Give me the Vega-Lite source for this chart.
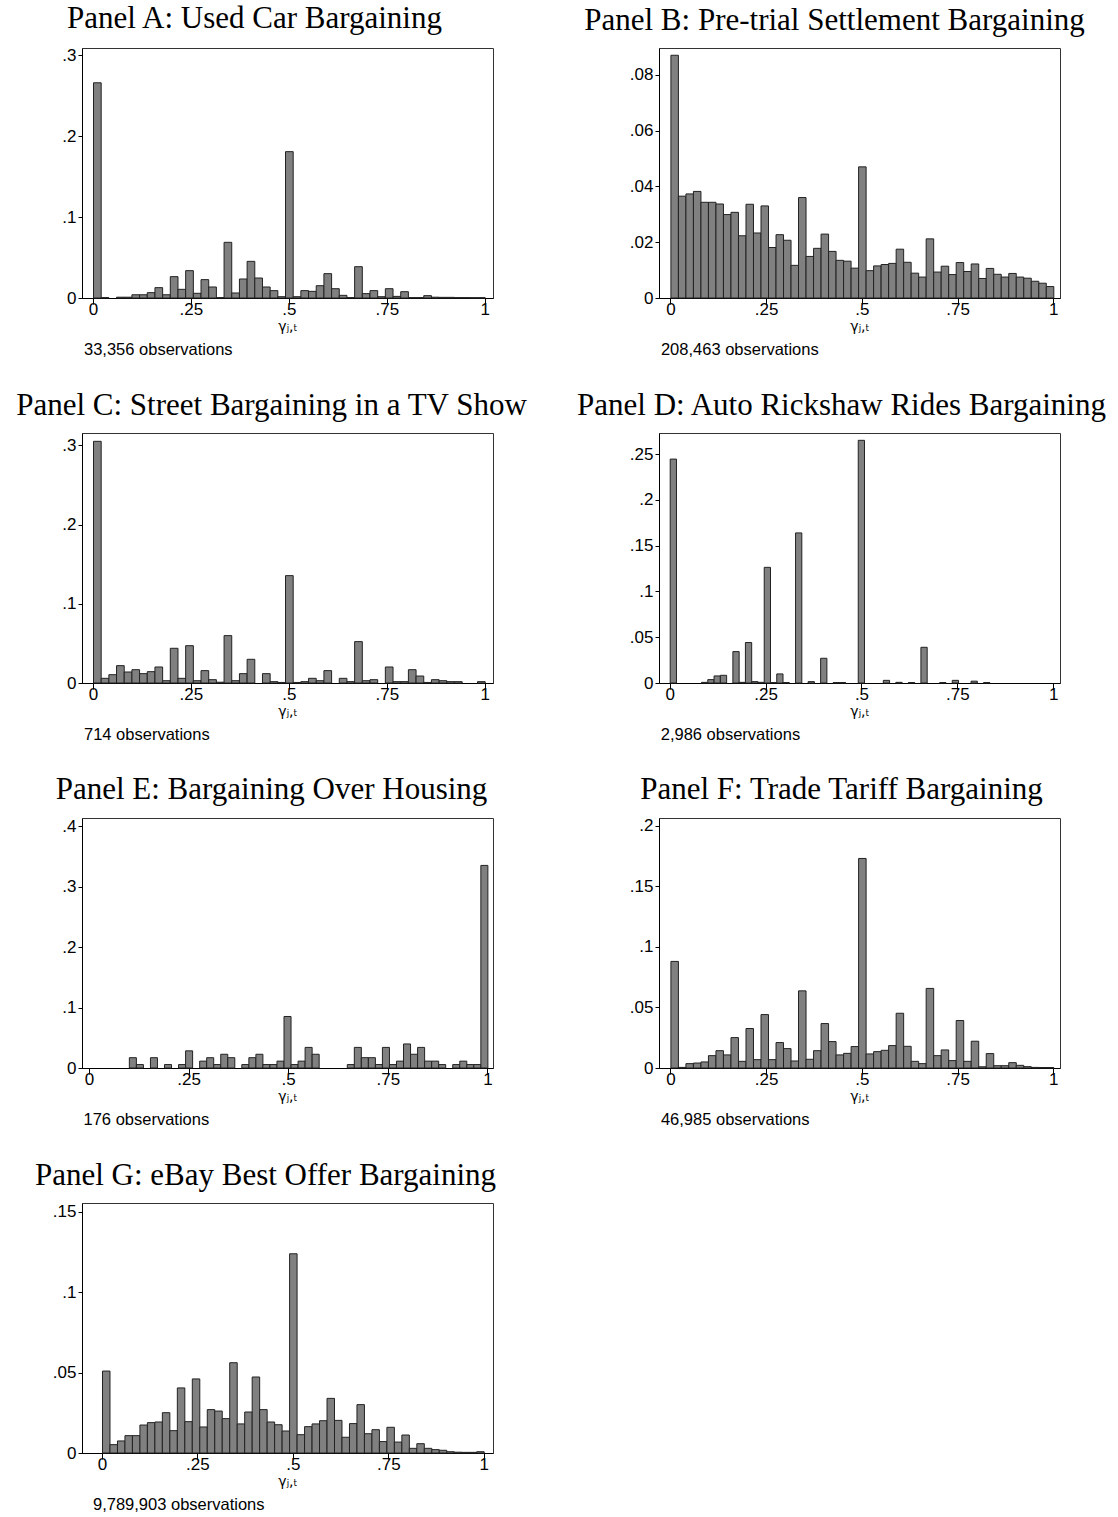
{
 "$schema": "https://vega.github.io/schema/vega-lite/v6.json",
 "background": "white",
 "padding": {"left": 15, "top": 2, "right": 10, "bottom": 6},
 "config": {
  "view": {"stroke": "#333333", "strokeWidth": 1},
  "title": {"font": "Liberation Serif", "fontSize": 31, "fontWeight": "normal", "color": "black", "anchor": "middle", "frame": "group", "baseline": "alphabetic", "offset": 11},
  "axis": {"grid": false, "domainColor": "black", "tickColor": "black", "labelColor": "black", "labelFont": "Liberation Sans", "labelFontSize": 17, "titleFont": "DejaVu Sans", "titleFontSize": 14, "titleFontWeight": "normal", "titleColor": "black"},
  "axisX": {"tickSize": 6, "labelPadding": -3, "titlePadding": 2, "labelFlush": false},
  "axisY": {"tickSize": 4, "labelPadding": 2}
 },
 "datasets": {
  "notes": [
   {"p": "A", "n": "33,356 observations"},
   {"p": "B", "n": "208,463 observations"},
   {"p": "C", "n": "714 observations"},
   {"p": "D", "n": "2,986 observations"},
   {"p": "E", "n": "176 observations"},
   {"p": "F", "n": "46,985 observations"},
   {"p": "G", "n": "9,789,903 observations"}
  ],
  "bins": [
   {"p":"A","lo":0,"v":0.266},{"p":"A","lo":0.01961,"v":0.0005},{"p":"A","lo":0.05882,"v":0.001},{"p":"A","lo":0.07843,"v":0.001},{"p":"A","lo":0.09804,"v":0.004},{"p":"A","lo":0.11765,"v":0.004},{"p":"A","lo":0.13725,"v":0.0066},{"p":"A","lo":0.15686,"v":0.0128},{"p":"A","lo":0.17647,"v":0.004},{"p":"A","lo":0.19608,"v":0.0264},{"p":"A","lo":0.21569,"v":0.0107},{"p":"A","lo":0.23529,"v":0.0338},{"p":"A","lo":0.2549,"v":0.0058},{"p":"A","lo":0.27451,"v":0.0227},{"p":"A","lo":0.29412,"v":0.0136},{"p":"A","lo":0.31373,"v":0.0005},{"p":"A","lo":0.33333,"v":0.0688},{"p":"A","lo":0.35294,"v":0.0062},{"p":"A","lo":0.37255,"v":0.0235},{"p":"A","lo":0.39216,"v":0.0453},{"p":"A","lo":0.41176,"v":0.0247},{"p":"A","lo":0.43137,"v":0.0136},{"p":"A","lo":0.45098,"v":0.0091},{"p":"A","lo":0.47059,"v":0.0016},{"p":"A","lo":0.4902,"v":0.1809},{"p":"A","lo":0.5098,"v":0.0016},{"p":"A","lo":0.52941,"v":0.0091},{"p":"A","lo":0.54902,"v":0.0082},{"p":"A","lo":0.56863,"v":0.0152},{"p":"A","lo":0.58824,"v":0.0301},{"p":"A","lo":0.60784,"v":0.0115},{"p":"A","lo":0.62745,"v":0.0033},{"p":"A","lo":0.64706,"v":0.0005},{"p":"A","lo":0.66667,"v":0.0387},{"p":"A","lo":0.68627,"v":0.0054},{"p":"A","lo":0.70588,"v":0.0091},{"p":"A","lo":0.72549,"v":0.0016},{"p":"A","lo":0.7451,"v":0.0115},{"p":"A","lo":0.76471,"v":0.002},{"p":"A","lo":0.78431,"v":0.0078},{"p":"A","lo":0.80392,"v":0.0005},{"p":"A","lo":0.82353,"v":0.0005},{"p":"A","lo":0.84314,"v":0.0029},{"p":"A","lo":0.86275,"v":0.001},{"p":"A","lo":0.88235,"v":0.0008},{"p":"A","lo":0.90196,"v":0.0008},{"p":"A","lo":0.92157,"v":0.0005},{"p":"A","lo":0.94118,"v":0.0005},{"p":"A","lo":0.96078,"v":0.0004},{"p":"A","lo":0.98039,"v":0.0004},
   {"p":"B","lo":0,"v":0.087},{"p":"B","lo":0.01961,"v":0.0365},{"p":"B","lo":0.03922,"v":0.0373},{"p":"B","lo":0.05882,"v":0.0382},{"p":"B","lo":0.07843,"v":0.0343},{"p":"B","lo":0.09804,"v":0.0343},{"p":"B","lo":0.11765,"v":0.0337},{"p":"B","lo":0.13725,"v":0.0299},{"p":"B","lo":0.15686,"v":0.0307},{"p":"B","lo":0.17647,"v":0.0223},{"p":"B","lo":0.19608,"v":0.0336},{"p":"B","lo":0.21569,"v":0.0233},{"p":"B","lo":0.23529,"v":0.033},{"p":"B","lo":0.2549,"v":0.0181},{"p":"B","lo":0.27451,"v":0.0227},{"p":"B","lo":0.29412,"v":0.0207},{"p":"B","lo":0.31373,"v":0.0117},{"p":"B","lo":0.33333,"v":0.036},{"p":"B","lo":0.35294,"v":0.0149},{"p":"B","lo":0.37255,"v":0.0178},{"p":"B","lo":0.39216,"v":0.0229},{"p":"B","lo":0.41176,"v":0.0167},{"p":"B","lo":0.43137,"v":0.0135},{"p":"B","lo":0.45098,"v":0.0132},{"p":"B","lo":0.47059,"v":0.0107},{"p":"B","lo":0.4902,"v":0.047},{"p":"B","lo":0.5098,"v":0.0098},{"p":"B","lo":0.52941,"v":0.0115},{"p":"B","lo":0.54902,"v":0.012},{"p":"B","lo":0.56863,"v":0.0124},{"p":"B","lo":0.58824,"v":0.0175},{"p":"B","lo":0.60784,"v":0.0128},{"p":"B","lo":0.62745,"v":0.0089},{"p":"B","lo":0.64706,"v":0.0075},{"p":"B","lo":0.66667,"v":0.0212},{"p":"B","lo":0.68627,"v":0.0093},{"p":"B","lo":0.70588,"v":0.0114},{"p":"B","lo":0.72549,"v":0.0084},{"p":"B","lo":0.7451,"v":0.0127},{"p":"B","lo":0.76471,"v":0.0095},{"p":"B","lo":0.78431,"v":0.0122},{"p":"B","lo":0.80392,"v":0.007},{"p":"B","lo":0.82353,"v":0.0106},{"p":"B","lo":0.84314,"v":0.0085},{"p":"B","lo":0.86275,"v":0.0075},{"p":"B","lo":0.88235,"v":0.0088},{"p":"B","lo":0.90196,"v":0.0075},{"p":"B","lo":0.92157,"v":0.0071},{"p":"B","lo":0.94118,"v":0.006},{"p":"B","lo":0.96078,"v":0.0053},{"p":"B","lo":0.98039,"v":0.0041},
   {"p":"C","lo":0,"v":0.305},{"p":"C","lo":0.01961,"v":0.0059},{"p":"C","lo":0.03922,"v":0.0105},{"p":"C","lo":0.05882,"v":0.0219},{"p":"C","lo":0.07843,"v":0.0139},{"p":"C","lo":0.09804,"v":0.0168},{"p":"C","lo":0.11765,"v":0.0118},{"p":"C","lo":0.13725,"v":0.0143},{"p":"C","lo":0.15686,"v":0.0202},{"p":"C","lo":0.17647,"v":0.0029},{"p":"C","lo":0.19608,"v":0.0438},{"p":"C","lo":0.21569,"v":0.0059},{"p":"C","lo":0.23529,"v":0.0471},{"p":"C","lo":0.2549,"v":0.0029},{"p":"C","lo":0.27451,"v":0.0156},{"p":"C","lo":0.29412,"v":0.0042},{"p":"C","lo":0.31373,"v":0.001},{"p":"C","lo":0.33333,"v":0.0598},{"p":"C","lo":0.35294,"v":0.0029},{"p":"C","lo":0.37255,"v":0.0118},{"p":"C","lo":0.39216,"v":0.0299},{"p":"C","lo":0.43137,"v":0.0118},{"p":"C","lo":0.45098,"v":0.0017},{"p":"C","lo":0.47059,"v":0.0007},{"p":"C","lo":0.4902,"v":0.1355},{"p":"C","lo":0.5098,"v":0.0007},{"p":"C","lo":0.52941,"v":0.0017},{"p":"C","lo":0.54902,"v":0.0059},{"p":"C","lo":0.56863,"v":0.0029},{"p":"C","lo":0.58824,"v":0.0156},{"p":"C","lo":0.62745,"v":0.0059},{"p":"C","lo":0.64706,"v":0.0017},{"p":"C","lo":0.66667,"v":0.0522},{"p":"C","lo":0.68627,"v":0.0029},{"p":"C","lo":0.70588,"v":0.0042},{"p":"C","lo":0.7451,"v":0.0202},{"p":"C","lo":0.76471,"v":0.0017},{"p":"C","lo":0.78431,"v":0.0017},{"p":"C","lo":0.80392,"v":0.0168},{"p":"C","lo":0.82353,"v":0.0088},{"p":"C","lo":0.84314,"v":0.0007},{"p":"C","lo":0.86275,"v":0.0042},{"p":"C","lo":0.88235,"v":0.0029},{"p":"C","lo":0.90196,"v":0.0017},{"p":"C","lo":0.92157,"v":0.0017},{"p":"C","lo":0.98039,"v":0.0017},
   {"p":"D","lo":0,"v":0.2445},{"p":"D","lo":0.0817,"v":0.0007},{"p":"D","lo":0.09804,"v":0.0037},{"p":"D","lo":0.11438,"v":0.0077},{"p":"D","lo":0.13072,"v":0.0084},{"p":"D","lo":0.1634,"v":0.0343},{"p":"D","lo":0.17974,"v":0.0007},{"p":"D","lo":0.19608,"v":0.0442},{"p":"D","lo":0.21242,"v":0.0015},{"p":"D","lo":0.22876,"v":0.0007},{"p":"D","lo":0.2451,"v":0.1263},{"p":"D","lo":0.26144,"v":0.0005},{"p":"D","lo":0.27778,"v":0.0099},{"p":"D","lo":0.29412,"v":0.0005},{"p":"D","lo":0.3268,"v":0.1639},{"p":"D","lo":0.35948,"v":0.0015},{"p":"D","lo":0.39216,"v":0.027},{"p":"D","lo":0.42484,"v":0.0005},{"p":"D","lo":0.44118,"v":0.0005},{"p":"D","lo":0.4902,"v":0.265},{"p":"D","lo":0.55556,"v":0.0029},{"p":"D","lo":0.58824,"v":0.0007},{"p":"D","lo":0.62092,"v":0.0005},{"p":"D","lo":0.6536,"v":0.039},{"p":"D","lo":0.70262,"v":0.0005},{"p":"D","lo":0.7353,"v":0.0029},{"p":"D","lo":0.78432,"v":0.002},{"p":"D","lo":0.817,"v":0.0005},
   {"p":"E","lo":0.1,"v":0.01705},{"p":"E","lo":0.11765,"v":0.00568},{"p":"E","lo":0.15294,"v":0.01705},{"p":"E","lo":0.18824,"v":0.00568},{"p":"E","lo":0.22353,"v":0.00568},{"p":"E","lo":0.24118,"v":0.02841},{"p":"E","lo":0.27647,"v":0.01136},{"p":"E","lo":0.29412,"v":0.01705},{"p":"E","lo":0.31176,"v":0.00568},{"p":"E","lo":0.32941,"v":0.02273},{"p":"E","lo":0.34706,"v":0.01705},{"p":"E","lo":0.38235,"v":0.00568},{"p":"E","lo":0.4,"v":0.01705},{"p":"E","lo":0.41765,"v":0.02273},{"p":"E","lo":0.43529,"v":0.00568},{"p":"E","lo":0.45294,"v":0.00568},{"p":"E","lo":0.47059,"v":0.01136},{"p":"E","lo":0.48824,"v":0.08523},{"p":"E","lo":0.50588,"v":0.00568},{"p":"E","lo":0.52353,"v":0.01136},{"p":"E","lo":0.54118,"v":0.03409},{"p":"E","lo":0.55882,"v":0.02273},{"p":"E","lo":0.64706,"v":0.00568},{"p":"E","lo":0.66471,"v":0.03409},{"p":"E","lo":0.68235,"v":0.01705},{"p":"E","lo":0.7,"v":0.01705},{"p":"E","lo":0.71765,"v":0.00568},{"p":"E","lo":0.73529,"v":0.03409},{"p":"E","lo":0.75294,"v":0.00568},{"p":"E","lo":0.77059,"v":0.01136},{"p":"E","lo":0.78824,"v":0.03977},{"p":"E","lo":0.80588,"v":0.02273},{"p":"E","lo":0.82353,"v":0.03409},{"p":"E","lo":0.84118,"v":0.01136},{"p":"E","lo":0.85882,"v":0.01136},{"p":"E","lo":0.87647,"v":0.00568},{"p":"E","lo":0.91176,"v":0.00568},{"p":"E","lo":0.92941,"v":0.01136},{"p":"E","lo":0.94706,"v":0.00568},{"p":"E","lo":0.96471,"v":0.00568},{"p":"E","lo":0.98235,"v":0.33523},
   {"p":"F","lo":0,"v":0.088},{"p":"F","lo":0.01961,"v":0.0005},{"p":"F","lo":0.03922,"v":0.0036},{"p":"F","lo":0.05882,"v":0.0041},{"p":"F","lo":0.07843,"v":0.005},{"p":"F","lo":0.09804,"v":0.0102},{"p":"F","lo":0.11765,"v":0.0143},{"p":"F","lo":0.13725,"v":0.0108},{"p":"F","lo":0.15686,"v":0.0251},{"p":"F","lo":0.17647,"v":0.0055},{"p":"F","lo":0.19608,"v":0.0326},{"p":"F","lo":0.21569,"v":0.0069},{"p":"F","lo":0.23529,"v":0.0441},{"p":"F","lo":0.2549,"v":0.0069},{"p":"F","lo":0.27451,"v":0.021},{"p":"F","lo":0.29412,"v":0.016},{"p":"F","lo":0.31373,"v":0.0058},{"p":"F","lo":0.33333,"v":0.0637},{"p":"F","lo":0.35294,"v":0.0072},{"p":"F","lo":0.37255,"v":0.0143},{"p":"F","lo":0.39216,"v":0.0367},{"p":"F","lo":0.41176,"v":0.0218},{"p":"F","lo":0.43137,"v":0.0108},{"p":"F","lo":0.45098,"v":0.0121},{"p":"F","lo":0.47059,"v":0.0177},{"p":"F","lo":0.4902,"v":0.173},{"p":"F","lo":0.5098,"v":0.0116},{"p":"F","lo":0.52941,"v":0.0135},{"p":"F","lo":0.54902,"v":0.0146},{"p":"F","lo":0.56863,"v":0.0185},{"p":"F","lo":0.58824,"v":0.0452},{"p":"F","lo":0.60784,"v":0.0179},{"p":"F","lo":0.62745,"v":0.0055},{"p":"F","lo":0.64706,"v":0.0036},{"p":"F","lo":0.66667,"v":0.0657},{"p":"F","lo":0.68627,"v":0.0102},{"p":"F","lo":0.70588,"v":0.0149},{"p":"F","lo":0.72549,"v":0.0061},{"p":"F","lo":0.7451,"v":0.0392},{"p":"F","lo":0.76471,"v":0.0055},{"p":"F","lo":0.78431,"v":0.0221},{"p":"F","lo":0.80392,"v":0.001},{"p":"F","lo":0.82353,"v":0.0119},{"p":"F","lo":0.84314,"v":0.0019},{"p":"F","lo":0.86275,"v":0.0019},{"p":"F","lo":0.88235,"v":0.0044},{"p":"F","lo":0.90196,"v":0.0022},{"p":"F","lo":0.92157,"v":0.0011},{"p":"F","lo":0.94118,"v":0.0005},{"p":"F","lo":0.96078,"v":0.0004},{"p":"F","lo":0.98039,"v":0.0004},
   {"p":"G","lo":0,"v":0.051},{"p":"G","lo":0.01961,"v":0.0052},{"p":"G","lo":0.03922,"v":0.0075},{"p":"G","lo":0.05882,"v":0.0108},{"p":"G","lo":0.07843,"v":0.0108},{"p":"G","lo":0.09804,"v":0.0174},{"p":"G","lo":0.11765,"v":0.0189},{"p":"G","lo":0.13725,"v":0.0193},{"p":"G","lo":0.15686,"v":0.0251},{"p":"G","lo":0.17647,"v":0.0139},{"p":"G","lo":0.19608,"v":0.0405},{"p":"G","lo":0.21569,"v":0.0195},{"p":"G","lo":0.23529,"v":0.0461},{"p":"G","lo":0.2549,"v":0.0162},{"p":"G","lo":0.27451,"v":0.027},{"p":"G","lo":0.29412,"v":0.0261},{"p":"G","lo":0.31373,"v":0.0214},{"p":"G","lo":0.33333,"v":0.0562},{"p":"G","lo":0.35294,"v":0.0181},{"p":"G","lo":0.37255,"v":0.0255},{"p":"G","lo":0.39216,"v":0.0473},{"p":"G","lo":0.41176,"v":0.027},{"p":"G","lo":0.43137,"v":0.0193},{"p":"G","lo":0.45098,"v":0.0176},{"p":"G","lo":0.47059,"v":0.0137},{"p":"G","lo":0.4902,"v":0.124},{"p":"G","lo":0.5098,"v":0.0114},{"p":"G","lo":0.52941,"v":0.0164},{"p":"G","lo":0.54902,"v":0.0181},{"p":"G","lo":0.56863,"v":0.0201},{"p":"G","lo":0.58824,"v":0.034},{"p":"G","lo":0.60784,"v":0.0203},{"p":"G","lo":0.62745,"v":0.0098},{"p":"G","lo":0.64706,"v":0.0183},{"p":"G","lo":0.66667,"v":0.0301},{"p":"G","lo":0.68627,"v":0.012},{"p":"G","lo":0.70588,"v":0.0145},{"p":"G","lo":0.72549,"v":0.0071},{"p":"G","lo":0.7451,"v":0.016},{"p":"G","lo":0.76471,"v":0.0068},{"p":"G","lo":0.78431,"v":0.0112},{"p":"G","lo":0.80392,"v":0.0029},{"p":"G","lo":0.82353,"v":0.0058},{"p":"G","lo":0.84314,"v":0.0029},{"p":"G","lo":0.86275,"v":0.0021},{"p":"G","lo":0.88235,"v":0.0017},{"p":"G","lo":0.90196,"v":0.0008},{"p":"G","lo":0.92157,"v":0.0005},{"p":"G","lo":0.94118,"v":0.0004},{"p":"G","lo":0.96078,"v":0.0004},{"p":"G","lo":0.98039,"v":0.0008}
  ]
 },
 "data": {"name": "bins"},
 "spacing": 385,
 "bounds": "flush",
 "vconcat": [
  {"hconcat": [
   {"width": 411, "height": 250, "title": {"text": "Panel A: Used Car Bargaining", "dx": -33},
    "layer": [
     {"transform": [{"filter": "datum.p == 'A'"}],
      "mark": {"type": "bar", "binSpacing": 0, "fill": "#808080", "stroke": "#222222", "strokeWidth": 1},
      "encoding": {
       "x": {"field": "lo", "type": "quantitative", "bin": {"binned": true, "step": 0.019608}, "title": "γⱼ,ₜ", "scale": {"domain": [-0.0281, 1.0212], "nice": false, "zero": false}, "axis": {"values": [0, 0.25, 0.5, 0.75, 1], "labelExpr": "datum.value == 0 ? '0' : datum.value == 1 ? '1' : slice(format(datum.value, '.2~f'), 1)"}},
       "y": {"field": "v", "type": "quantitative", "title": null, "scale": {"domain": [0, 0.309], "nice": false}, "axis": {"values": [0, 0.1, 0.2, 0.3], "labelExpr": "datum.value == 0 ? '0' : slice(format(datum.value, '.2~f'), 1)"}}
      }},
     {"data": {"name": "notes"}, "transform": [{"filter": "datum.p == 'A'"}],
      "mark": {"type": "text", "align": "left", "baseline": "alphabetic", "dx": -9, "dy": 56.5, "font": "Liberation Sans", "fontSize": 16.5, "color": "black"},
      "encoding": {"text": {"field": "n"}, "x": {"datum": 0, "type": "quantitative", "title": "γⱼ,ₜ"}, "y": {"datum": 0, "type": "quantitative", "title": null}}}
    ]},
   {"width": 401, "height": 250, "title": {"text": "Panel B: Pre-trial Settlement Bargaining", "dx": -25},
    "layer": [
     {"transform": [{"filter": "datum.p == 'B'"}],
      "mark": {"type": "bar", "binSpacing": 0, "fill": "#808080", "stroke": "#222222", "strokeWidth": 1},
      "encoding": {
       "x": {"field": "lo", "type": "quantitative", "bin": {"binned": true, "step": 0.019608}, "title": "γⱼ,ₜ", "scale": {"domain": [-0.0298, 1.0175], "nice": false, "zero": false}, "axis": {"values": [0, 0.25, 0.5, 0.75, 1], "labelExpr": "datum.value == 0 ? '0' : datum.value == 1 ? '1' : slice(format(datum.value, '.2~f'), 1)"}},
       "y": {"field": "v", "type": "quantitative", "title": null, "scale": {"domain": [0, 0.0896], "nice": false}, "axis": {"values": [0, 0.02, 0.04, 0.06, 0.08], "labelExpr": "datum.value == 0 ? '0' : slice(format(datum.value, '.2~f'), 1)"}}
      }},
     {"data": {"name": "notes"}, "transform": [{"filter": "datum.p == 'B'"}],
      "mark": {"type": "text", "align": "left", "baseline": "alphabetic", "dx": -9.5, "dy": 56.5, "font": "Liberation Sans", "fontSize": 16.5, "color": "black"},
      "encoding": {"text": {"field": "n"}, "x": {"datum": 0, "type": "quantitative", "title": "γⱼ,ₜ"}, "y": {"datum": 0, "type": "quantitative", "title": null}}}
    ]}
  ], "spacing": 166, "bounds": "flush"},
  {"hconcat": [
   {"width": 411, "height": 250, "title": {"text": "Panel C: Street Bargaining in a TV Show", "dx": -16},
    "layer": [
     {"transform": [{"filter": "datum.p == 'C'"}],
      "mark": {"type": "bar", "binSpacing": 0, "fill": "#808080", "stroke": "#222222", "strokeWidth": 1},
      "encoding": {
       "x": {"field": "lo", "type": "quantitative", "bin": {"binned": true, "step": 0.019608}, "title": "γⱼ,ₜ", "scale": {"domain": [-0.0281, 1.0212], "nice": false, "zero": false}, "axis": {"values": [0, 0.25, 0.5, 0.75, 1], "labelExpr": "datum.value == 0 ? '0' : datum.value == 1 ? '1' : slice(format(datum.value, '.2~f'), 1)"}},
       "y": {"field": "v", "type": "quantitative", "title": null, "scale": {"domain": [0, 0.3155], "nice": false}, "axis": {"values": [0, 0.1, 0.2, 0.3], "labelExpr": "datum.value == 0 ? '0' : slice(format(datum.value, '.2~f'), 1)"}}
      }},
     {"data": {"name": "notes"}, "transform": [{"filter": "datum.p == 'C'"}],
      "mark": {"type": "text", "align": "left", "baseline": "alphabetic", "dx": -9, "dy": 56.5, "font": "Liberation Sans", "fontSize": 16.5, "color": "black"},
      "encoding": {"text": {"field": "n"}, "x": {"datum": 0, "type": "quantitative", "title": "γⱼ,ₜ"}, "y": {"datum": 0, "type": "quantitative", "title": null}}}
    ]},
   {"width": 401, "height": 250, "title": {"text": "Panel D: Auto Rickshaw Rides Bargaining", "dx": -18},
    "layer": [
     {"transform": [{"filter": "datum.p == 'D'"}],
      "mark": {"type": "bar", "binSpacing": 0, "fill": "#808080", "stroke": "#222222", "strokeWidth": 1},
      "encoding": {
       "x": {"field": "lo", "type": "quantitative", "bin": {"binned": true, "step": 0.01634}, "title": "γⱼ,ₜ", "scale": {"domain": [-0.0279, 1.0175], "nice": false, "zero": false}, "axis": {"values": [0, 0.25, 0.5, 0.75, 1], "labelExpr": "datum.value == 0 ? '0' : datum.value == 1 ? '1' : slice(format(datum.value, '.2~f'), 1)"}},
       "y": {"field": "v", "type": "quantitative", "title": null, "scale": {"domain": [0, 0.273], "nice": false}, "axis": {"values": [0, 0.05, 0.1, 0.15, 0.2, 0.25], "labelExpr": "datum.value == 0 ? '0' : slice(format(datum.value, '.2~f'), 1)"}}
      }},
     {"data": {"name": "notes"}, "transform": [{"filter": "datum.p == 'D'"}],
      "mark": {"type": "text", "align": "left", "baseline": "alphabetic", "dx": -9, "dy": 56.5, "font": "Liberation Sans", "fontSize": 16.5, "color": "black"},
      "encoding": {"text": {"field": "n"}, "x": {"datum": 0, "type": "quantitative", "title": "γⱼ,ₜ"}, "y": {"datum": 0, "type": "quantitative", "title": null}}}
    ]}
  ], "spacing": 166, "bounds": "flush"},
  {"hconcat": [
   {"width": 411, "height": 250, "title": {"text": "Panel E: Bargaining Over Housing", "dx": -16},
    "layer": [
     {"transform": [{"filter": "datum.p == 'E'"}],
      "mark": {"type": "bar", "binSpacing": 0, "fill": "#808080", "stroke": "#222222", "strokeWidth": 1},
      "encoding": {
       "x": {"field": "lo", "type": "quantitative", "bin": {"binned": true, "step": 0.017647}, "title": "γⱼ,ₜ", "scale": {"domain": [-0.0176, 1.0141], "nice": false, "zero": false}, "axis": {"values": [0, 0.25, 0.5, 0.75, 1], "labelExpr": "datum.value == 0 ? '0' : datum.value == 1 ? '1' : slice(format(datum.value, '.2~f'), 1)"}},
       "y": {"field": "v", "type": "quantitative", "title": null, "scale": {"domain": [0, 0.4137], "nice": false}, "axis": {"values": [0, 0.1, 0.2, 0.3, 0.4], "labelExpr": "datum.value == 0 ? '0' : slice(format(datum.value, '.2~f'), 1)"}}
      }},
     {"data": {"name": "notes"}, "transform": [{"filter": "datum.p == 'E'"}],
      "mark": {"type": "text", "align": "left", "baseline": "alphabetic", "dx": -5.5, "dy": 56.5, "font": "Liberation Sans", "fontSize": 16.5, "color": "black"},
      "encoding": {"text": {"field": "n"}, "x": {"datum": 0, "type": "quantitative", "title": "γⱼ,ₜ"}, "y": {"datum": 0, "type": "quantitative", "title": null}}}
    ]},
   {"width": 401, "height": 250, "title": {"text": "Panel F: Trade Tariff Bargaining", "dx": -18},
    "layer": [
     {"transform": [{"filter": "datum.p == 'F'"}],
      "mark": {"type": "bar", "binSpacing": 0, "fill": "#808080", "stroke": "#222222", "strokeWidth": 1},
      "encoding": {
       "x": {"field": "lo", "type": "quantitative", "bin": {"binned": true, "step": 0.019608}, "title": "γⱼ,ₜ", "scale": {"domain": [-0.0298, 1.0175], "nice": false, "zero": false}, "axis": {"values": [0, 0.25, 0.5, 0.75, 1], "labelExpr": "datum.value == 0 ? '0' : datum.value == 1 ? '1' : slice(format(datum.value, '.2~f'), 1)"}},
       "y": {"field": "v", "type": "quantitative", "title": null, "scale": {"domain": [0, 0.2064], "nice": false}, "axis": {"values": [0, 0.05, 0.1, 0.15, 0.2], "labelExpr": "datum.value == 0 ? '0' : slice(format(datum.value, '.2~f'), 1)"}}
      }},
     {"data": {"name": "notes"}, "transform": [{"filter": "datum.p == 'F'"}],
      "mark": {"type": "text", "align": "left", "baseline": "alphabetic", "dx": -9.5, "dy": 56.5, "font": "Liberation Sans", "fontSize": 16.5, "color": "black"},
      "encoding": {"text": {"field": "n"}, "x": {"datum": 0, "type": "quantitative", "title": "γⱼ,ₜ"}, "y": {"datum": 0, "type": "quantitative", "title": null}}}
    ]}
  ], "spacing": 166, "bounds": "flush"},
  {"width": 411, "height": 250, "title": {"text": "Panel G: eBay Best Offer Bargaining", "dx": -22},
   "layer": [
    {"transform": [{"filter": "datum.p == 'G'"}],
     "mark": {"type": "bar", "binSpacing": 0, "fill": "#808080", "stroke": "#222222", "strokeWidth": 1},
     "encoding": {
      "x": {"field": "lo", "type": "quantitative", "bin": {"binned": true, "step": 0.019608}, "title": "γⱼ,ₜ", "scale": {"domain": [-0.0524, 1.0244], "nice": false, "zero": false}, "axis": {"values": [0, 0.25, 0.5, 0.75, 1], "labelExpr": "datum.value == 0 ? '0' : datum.value == 1 ? '1' : slice(format(datum.value, '.2~f'), 1)"}},
      "y": {"field": "v", "type": "quantitative", "title": null, "scale": {"domain": [0, 0.1556], "nice": false}, "axis": {"values": [0, 0.05, 0.1, 0.15], "labelExpr": "datum.value == 0 ? '0' : slice(format(datum.value, '.2~f'), 1)"}}
     }},
    {"data": {"name": "notes"}, "transform": [{"filter": "datum.p == 'G'"}],
     "mark": {"type": "text", "align": "left", "baseline": "alphabetic", "dx": -9, "dy": 56.5, "font": "Liberation Sans", "fontSize": 16.5, "color": "black"},
     "encoding": {"text": {"field": "n"}, "x": {"datum": 0, "type": "quantitative", "title": "γⱼ,ₜ"}, "y": {"datum": 0, "type": "quantitative", "title": null}}}
   ]}
 ]
}
